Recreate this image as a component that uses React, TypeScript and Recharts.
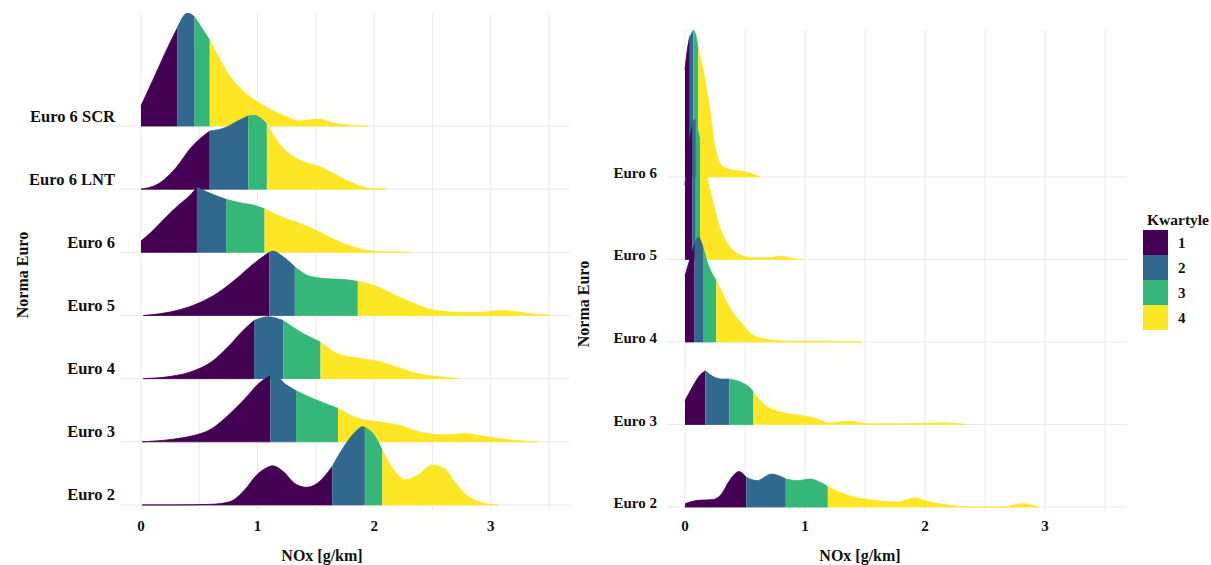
import React from 'react';
import { ComposedChart, Area, XAxis, YAxis, CartesianGrid } from 'recharts';

const FONT = '"Liberation Serif", "Times New Roman", Times, serif';
const QUARTILE_COLORS = ['#440154', '#31688E', '#35B779', '#FDE725'];
const QUARTILE_LABELS = ['1', '2', '3', '4'];
const X_TICKS = [0, 0.5, 1, 1.5, 2, 2.5, 3, 3.5];

// ---------- Left panel (NOx density by Euro norm) ----------
const leftCategories = ['Euro 2', 'Euro 3', 'Euro 4', 'Euro 5', 'Euro 6', 'Euro 6 LNT', 'Euro 6 SCR'];

const leftEuro2 = [[0.01, 0], [0.3, 0], [0.6, 0.01], [0.76, 0.05], [0.89, 0.24], [0.99, 0.47], [1.07, 0.58], [1.13, 0.62], [1.22, 0.53], [1.32, 0.34], [1.42, 0.28], [1.51, 0.34], [1.64, 0.61], [1.74, 0.92], [1.84, 1.16], [1.9, 1.24], [1.92, 1.23], [1.99, 1.13], [2.07, 0.87], [2.17, 0.55], [2.27, 0.4], [2.37, 0.47], [2.5, 0.63], [2.6, 0.58], [2.7, 0.34], [2.79, 0.16], [2.92, 0.04], [3.06, 0]];
const leftEuro2Q = [1.64, 1.92, 2.07];

const leftEuro3 = [[0.01, 0], [0.27, 0.04], [0.43, 0.09], [0.6, 0.2], [0.76, 0.44], [0.89, 0.68], [1.02, 0.94], [1.11, 1.05], [1.14, 1.06], [1.24, 0.91], [1.33, 0.81], [1.48, 0.68], [1.69, 0.53], [1.88, 0.36], [2.07, 0.31], [2.24, 0.25], [2.4, 0.15], [2.6, 0.11], [2.78, 0.13], [2.96, 0.08], [3.12, 0.04], [3.29, 0.01], [3.4, 0]];
const leftEuro3Q = [1.11, 1.33, 1.69];

const leftEuro4 = [[0.02, 0], [0.27, 0.04], [0.43, 0.11], [0.6, 0.26], [0.76, 0.53], [0.89, 0.79], [0.97, 0.92], [1.09, 0.98], [1.22, 0.92], [1.35, 0.76], [1.54, 0.58], [1.68, 0.4], [1.88, 0.32], [2.07, 0.26], [2.2, 0.18], [2.37, 0.08], [2.56, 0.03], [2.73, 0]];
const leftEuro4Q = [0.97, 1.22, 1.54];

const leftEuro5 = [[0.02, 0], [0.17, 0.03], [0.33, 0.09], [0.5, 0.2], [0.66, 0.36], [0.83, 0.6], [0.96, 0.81], [1.06, 0.95], [1.1, 1.0], [1.13, 1.02], [1.22, 0.93], [1.32, 0.77], [1.45, 0.62], [1.61, 0.58], [1.74, 0.57], [1.86, 0.54], [2.01, 0.47], [2.17, 0.33], [2.33, 0.2], [2.5, 0.09], [2.73, 0.05], [2.92, 0.05], [3.09, 0.08], [3.22, 0.06], [3.38, 0.02], [3.51, 0]];
const leftEuro5Q = [1.1, 1.32, 1.86];

const leftEuro6 = [[0, 0.18], [0.1, 0.34], [0.2, 0.53], [0.33, 0.76], [0.43, 0.92], [0.48, 1.03], [0.6, 0.93], [0.73, 0.84], [0.84, 0.79], [0.96, 0.75], [1.06, 0.69], [1.22, 0.55], [1.38, 0.45], [1.51, 0.34], [1.65, 0.21], [1.81, 0.09], [1.94, 0.03], [2.1, 0.005], [2.3, 0]];
const leftEuro6Q = [0.48, 0.73, 1.06];

const leftEuro6LNT = [[0, 0], [0.17, 0.11], [0.3, 0.34], [0.43, 0.66], [0.59, 0.92], [0.73, 0.98], [0.83, 1.08], [0.92, 1.16], [0.97, 1.17], [1.08, 1.03], [1.19, 0.71], [1.32, 0.5], [1.42, 0.42], [1.51, 0.37], [1.61, 0.29], [1.74, 0.16], [1.88, 0.05], [1.97, 0.01], [2.1, 0]];
const leftEuro6LNTQ = [0.59, 0.92, 1.08];

const leftEuro6SCR = [[0, 0.32], [0.1, 0.72], [0.2, 1.13], [0.31, 1.55], [0.4, 1.79], [0.46, 1.73], [0.59, 1.36], [0.65, 1.15], [0.74, 0.85], [0.85, 0.6], [1.02, 0.36], [1.22, 0.17], [1.36, 0.08], [1.51, 0.11], [1.65, 0.05], [1.81, 0.01], [1.94, 0]];
const leftEuro6SCRQ = [0.31, 0.46, 0.59];

// ---------- Right panel ----------
const rightCategories = ['Euro 2', 'Euro 3', 'Euro 4', 'Euro 5', 'Euro 6'];

const rightEuro2 = [[0, 0.04], [0.1, 0.08], [0.23, 0.09], [0.3, 0.15], [0.37, 0.32], [0.45, 0.43], [0.51, 0.36], [0.6, 0.32], [0.72, 0.4], [0.84, 0.34], [0.94, 0.32], [1.04, 0.34], [1.14, 0.29], [1.19, 0.25], [1.34, 0.15], [1.54, 0.09], [1.77, 0.06], [1.92, 0.11], [2.04, 0.06], [2.21, 0.02], [2.38, 0], [2.65, 0], [2.81, 0.04], [2.95, 0]];
const rightEuro2Q = [0.51, 0.84, 1.19];

const rightEuro3 = [[0, 0.29], [0.06, 0.45], [0.12, 0.59], [0.17, 0.65], [0.25, 0.57], [0.32, 0.55], [0.37, 0.55], [0.47, 0.51], [0.55, 0.43], [0.57, 0.39], [0.67, 0.23], [0.8, 0.15], [0.97, 0.11], [1.1, 0.07], [1.2, 0.02], [1.37, 0.04], [1.54, 0.01], [1.81, 0.01], [2.14, 0.02], [2.34, 0]];
const rightEuro3Q = [0.17, 0.37, 0.57];

const rightEuro4 = [[0, 0.8], [0.04, 1.0], [0.08, 1.18], [0.11, 1.27], [0.15, 1.15], [0.2, 0.91], [0.26, 0.75], [0.28, 0.69], [0.37, 0.42], [0.47, 0.23], [0.57, 0.08], [0.7, 0.03], [0.87, 0.01], [1.14, 0.01], [1.47, 0]];
const rightEuro4Q = [0.08, 0.15, 0.26];

const rightEuro5 = [[0, 0.9], [0.03, 1.35], [0.06, 1.62], [0.08, 1.7], [0.09, 1.67], [0.125, 1.45], [0.16, 1.15], [0.19, 0.96], [0.24, 0.65], [0.29, 0.39], [0.375, 0.15], [0.45, 0.06], [0.57, 0.02], [0.7, 0.02], [0.8, 0.04], [0.9, 0.01], [0.97, 0]];
const rightEuro5Q = [0.06, 0.09, 0.125];

const rightEuro6 = [[0, 1.3], [0.02, 1.55], [0.04, 1.7], [0.07, 1.78], [0.09, 1.72], [0.11, 1.55], [0.15, 1.3], [0.21, 0.78], [0.25, 0.36], [0.32, 0.12], [0.4, 0.08], [0.48, 0.07], [0.55, 0.04], [0.63, 0]];
const rightEuro6Q = [0.04, 0.07, 0.11];

type Ridge = { points: number[][]; quartiles: number[] };

const leftRidges: Ridge[] = [
  { points: leftEuro2, quartiles: leftEuro2Q },
  { points: leftEuro3, quartiles: leftEuro3Q },
  { points: leftEuro4, quartiles: leftEuro4Q },
  { points: leftEuro5, quartiles: leftEuro5Q },
  { points: leftEuro6, quartiles: leftEuro6Q },
  { points: leftEuro6LNT, quartiles: leftEuro6LNTQ },
  { points: leftEuro6SCR, quartiles: leftEuro6SCRQ },
];

const rightRidges: Ridge[] = [
  { points: rightEuro2, quartiles: rightEuro2Q },
  { points: rightEuro3, quartiles: rightEuro3Q },
  { points: rightEuro4, quartiles: rightEuro4Q },
  { points: rightEuro5, quartiles: rightEuro5Q },
  { points: rightEuro6, quartiles: rightEuro6Q },
];

function buildData(ridges: Ridge[]) {
  const xs = new Set<number>();
  ridges.forEach((r) => r.points.forEach((p) => xs.add(p[0])));
  const sorted = Array.from(xs).sort((a, b) => a - b);
  return sorted.map((x) => {
    const row: any = { x };
    ridges.forEach((r, ri) => {
      const pt = r.points.find((p) => p[0] === x);
      for (let q = 0; q < 4; q++) {
        const lo = q === 0 ? -Infinity : r.quartiles[q - 1];
        const hi = q === 3 ? Infinity : r.quartiles[q];
        row[`r${ri}q${q}`] = pt && x >= lo && x <= hi ? [ri, ri + pt[1]] : null;
      }
    });
    return row;
  });
}

type PanelProps = {
  categories: string[];
  ridges: Ridge[];
  width: number;
  height: number;
  margin: { top: number; right: number; bottom: number; left: number };
  yAxisWidth: number;
  xAxisHeight: number;
  xDomain: [number, number];
  yDomain: [number, number];
  labelFontSize: number;
  labelDy: number;
  labelGap: number;
  tickDy: number;
};

function RidgePanel(p: PanelProps) {
  const data = buildData(p.ridges);
  const yTicks = p.categories.map((_, i) => i);
  const renderYTick = (props: any) => (
    <text
      x={props.x}
      y={props.y + p.labelDy}
      textAnchor="end"
      dominantBaseline="central"
      fontFamily={FONT}
      fontWeight="bold"
      fontSize={p.labelFontSize}
      fill="#111"
    >
      {p.categories[props.payload.value]}
    </text>
  );
  const renderXTick = (props: any) =>
    Number.isInteger(props.payload.value) ? (
      <text
        x={props.x}
        y={props.y + p.tickDy}
        textAnchor="middle"
        dominantBaseline="central"
        fontFamily={FONT}
        fontWeight="bold"
        fontSize={15}
        fill="#111"
      >
        {String(props.payload.value)}
      </text>
    ) : (
      <g />
    );

  const areas: React.ReactNode[] = [];
  for (let ri = p.ridges.length - 1; ri >= 0; ri--) {
    for (let q = 0; q < 4; q++) {
      areas.push(
        <Area
          key={`r${ri}q${q}`}
          dataKey={`r${ri}q${q}`}
          type="monotone"
          fill={QUARTILE_COLORS[q]}
          fillOpacity={1}
          stroke={QUARTILE_COLORS[q]}
          strokeWidth={0.8}
          connectNulls
          dot={false}
          activeDot={false}
          isAnimationActive={false}
        />
      );
    }
  }

  return (
    <ComposedChart width={p.width} height={p.height} data={data} margin={p.margin}>
      <CartesianGrid stroke="#ebebeb" strokeWidth={1} syncWithTicks />
      <XAxis
        type="number"
        dataKey="x"
        domain={p.xDomain}
        ticks={X_TICKS}
        interval={0}
        allowDataOverflow
        axisLine={false}
        tickLine={false}
        tickSize={0}
        tickMargin={0}
        tick={renderXTick}
        height={p.xAxisHeight}
      />
      <YAxis
        type="number"
        domain={p.yDomain}
        ticks={yTicks}
        interval={0}
        allowDataOverflow
        axisLine={false}
        tickLine={false}
        tickSize={0}
        tickMargin={p.labelGap}
        tick={renderYTick}
        width={p.yAxisWidth}
      />
      {areas}
    </ComposedChart>
  );
}

const titleStyle = {
  fontFamily: FONT,
  fontWeight: 'bold' as const,
  fill: '#111',
};

export default function App() {
  return (
    <div
      style={{
        position: 'absolute',
        left: 0,
        top: 0,
        width: 1211,
        height: 565,
        background: '#fff',
        overflow: 'hidden',
      }}
    >
      <div style={{ position: 'absolute', left: 0, top: 0 }}>
        <RidgePanel
          categories={leftCategories}
          ridges={leftRidges}
          width={600}
          height={565}
          margin={{ top: 13, right: 30, bottom: 0, left: 0 }}
          yAxisWidth={120}
          xAxisHeight={55}
          xDomain={[-0.18, 3.68]}
          yDomain={[-0.08, 7.79]}
          labelFontSize={16.5}
          labelDy={-10}
          labelGap={5}
          tickDy={16}
        />
      </div>
      <div style={{ position: 'absolute', left: 580, top: 0 }}>
        <RidgePanel
          categories={rightCategories}
          ridges={rightRidges}
          width={560}
          height={565}
          margin={{ top: 30, right: 13, bottom: 0, left: 0 }}
          yAxisWidth={87}
          xAxisHeight={53}
          xDomain={[-0.15, 3.683]}
          yDomain={[-0.06, 5.78]}
          labelFontSize={15}
          labelDy={-4}
          labelGap={10}
          tickDy={14}
        />
      </div>
      <svg
        width={1211}
        height={565}
        style={{ position: 'absolute', left: 0, top: 0, pointerEvents: 'none' }}
      >
        <text {...titleStyle} fontSize={16} x={22} y={275} textAnchor="middle" dominantBaseline="central" transform="rotate(-90 22 275)">
          Norma Euro
        </text>
        <text {...titleStyle} fontSize={16} x={583} y={304} textAnchor="middle" dominantBaseline="central" transform="rotate(-90 583 304)">
          Norma Euro
        </text>
        <text {...titleStyle} fontSize={16} x={322} y={555} textAnchor="middle" dominantBaseline="central">
          NOx [g/km]
        </text>
        <text {...titleStyle} fontSize={16} x={860} y={555} textAnchor="middle" dominantBaseline="central">
          NOx [g/km]
        </text>
        <text {...titleStyle} fontSize={15.5} x={1147} y={219} dominantBaseline="central">
          Kwartyle
        </text>
        {QUARTILE_LABELS.map((lab, i) => (
          <g key={lab}>
            <rect x={1143} y={230 + i * 25} width={25} height={25} fill={QUARTILE_COLORS[i]} />
            <text {...titleStyle} fontSize={15} x={1178} y={242.5 + i * 25} dominantBaseline="central">
              {lab}
            </text>
          </g>
        ))}
      </svg>
    </div>
  );
}
